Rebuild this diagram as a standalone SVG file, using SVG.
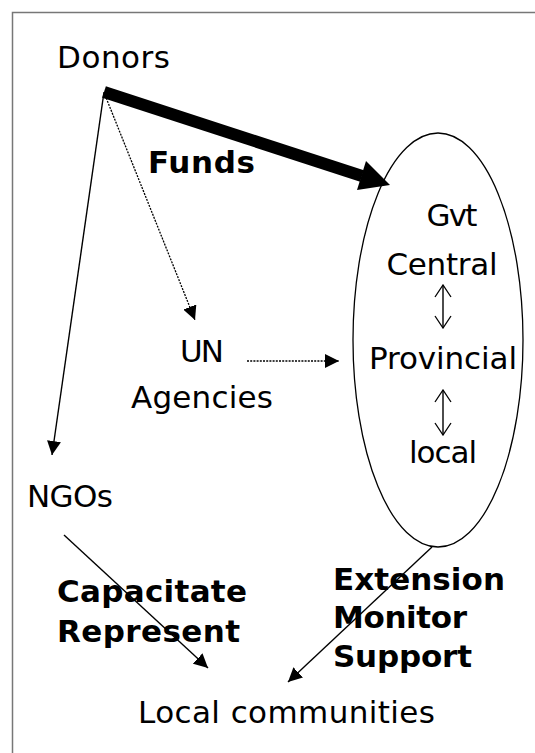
<svg xmlns="http://www.w3.org/2000/svg" width="535" height="753" viewBox="0 0 535 753">
<style>
text{font-family:"DejaVu Sans",Verdana,sans-serif;font-size:31px;fill:#000}
.b{font-weight:bold}
.m{text-anchor:middle}
.ln{stroke:#000;stroke-width:1.4;fill:none}
.dot{stroke:#000;stroke-width:1.3;fill:none;stroke-dasharray:2 1.2}
</style>
<defs>
<marker id="ah" markerUnits="userSpaceOnUse" viewBox="0 0 14 14" refX="14" refY="7" markerWidth="14" markerHeight="14" orient="auto">
<path d="M0,0 L14,7 L0,14 z" fill="#000"/>
</marker>
<marker id="ov" markerUnits="userSpaceOnUse" viewBox="0 0 14 18" refX="13" refY="9" markerWidth="14" markerHeight="18" orient="auto-start-reverse">
<path d="M1,1 L13,9 L1,17" fill="none" stroke="#000" stroke-width="1.3"/>
</marker>
</defs>
<rect x="12.5" y="12.5" width="540" height="760" fill="#fff" stroke="#777" stroke-width="1.5"/>
<g id="gvt">
<ellipse cx="438" cy="340" rx="85" ry="207" fill="none" stroke="#000" stroke-width="1.3"/>
<text class="m" x="452" y="226" textLength="51" lengthAdjust="spacing">Gvt</text>
<text class="m" x="442" y="275" textLength="111" lengthAdjust="spacing">Central</text>
<text class="m" x="443" y="369" textLength="148" lengthAdjust="spacing">Provincial</text>
<text class="m" x="443" y="463" textLength="68" lengthAdjust="spacing">local</text>
</g>
<g id="donors"><text x="57" y="68" textLength="113" lengthAdjust="spacing">Donors</text></g>
<g id="un"><text class="m" x="202" y="362" textLength="44" lengthAdjust="spacing">UN</text><text class="m" x="202" y="408" textLength="142" lengthAdjust="spacing">Agencies</text></g>
<g id="ngos"><text x="27" y="507" textLength="86" lengthAdjust="spacing">NGOs</text></g>
<g id="local"><text x="138" y="723" textLength="297" lengthAdjust="spacing">Local communities</text></g>
<g id="connectors">
<line x1="104" y1="92" x2="362" y2="176" stroke="#000" stroke-width="12"/>
<polygon points="390,185 357,190 366,161" fill="#000"/>
<line class="ln" x1="104" y1="92" x2="52" y2="455" marker-end="url(#ah)"/>
<line class="dot" x1="105" y1="95" x2="195" y2="320" marker-end="url(#ah)"/>
<line class="dot" x1="247" y1="361" x2="339" y2="361" marker-end="url(#ah)"/>
<line class="ln" x1="443" y1="285" x2="443" y2="328" marker-start="url(#ov)" marker-end="url(#ov)"/>
<line class="ln" x1="443" y1="390" x2="443" y2="435" marker-start="url(#ov)" marker-end="url(#ov)"/>
<line class="ln" x1="64" y1="535" x2="208" y2="668" marker-end="url(#ah)"/>
<line class="ln" x1="432" y1="547" x2="288" y2="682" marker-end="url(#ah)"/>
</g>
<g id="labels">
<text class="b" x="148" y="173" textLength="107" lengthAdjust="spacing">Funds</text>
<text class="b" x="57" y="602" textLength="190" lengthAdjust="spacing">Capacitate</text>
<text class="b" x="57" y="642" textLength="183" lengthAdjust="spacing">Represent</text>
<text class="b" x="333" y="590" textLength="172" lengthAdjust="spacing">Extension</text>
<text class="b" x="333" y="628" textLength="134" lengthAdjust="spacing">Monitor</text>
<text class="b" x="333" y="667" textLength="139" lengthAdjust="spacing">Support</text>
</g>
</svg>
